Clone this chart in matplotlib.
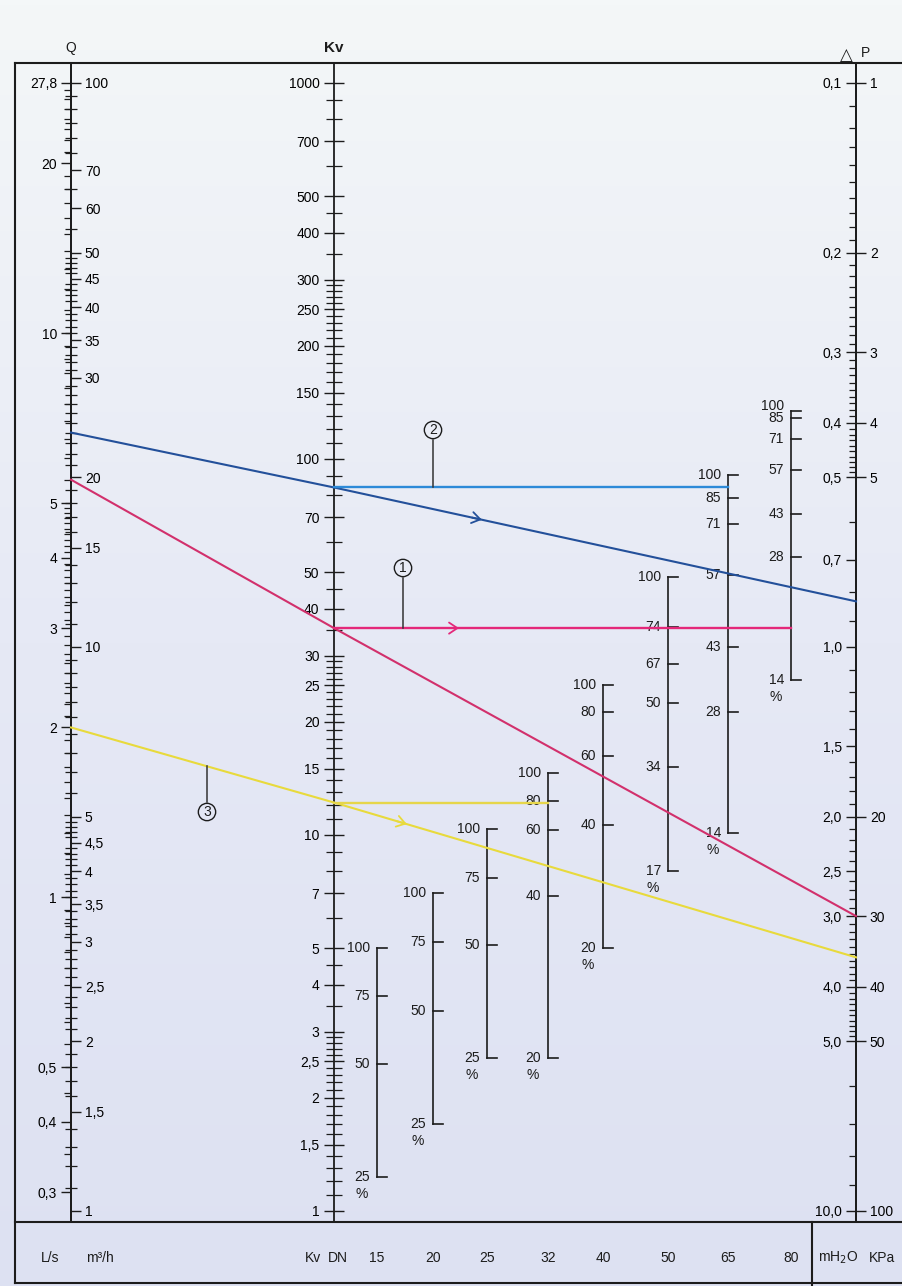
import numpy as np
import matplotlib.pyplot as plt
from matplotlib.colors import LinearSegmentedColormap
from matplotlib.ticker import NullFormatter

plt.rcParams['font.family'] = ['Liberation Sans', 'DejaVu Sans']
plt.rcParams['font.size'] = 10

##### scale values printed on the nomogram
q_m3h_major = [1, 1.5, 2, 2.5, 3, 3.5, 4, 4.5, 5, 10, 15, 20, 30, 35, 40, 45, 50, 60, 70, 100]
q_ls_major = [0.3, 0.4, 0.5, 1, 2, 3, 4, 5, 10, 20, 27.8]
kv_major = [1, 1.5, 2, 2.5, 3, 4, 5, 7, 10, 15, 20, 25, 30, 40, 50, 70,
            100, 150, 200, 250, 300, 400, 500, 700, 1000]
dp_mh2o_major = [0.1, 0.2, 0.3, 0.4, 0.5, 0.7, 1.0, 1.5, 2.0, 2.5, 3.0, 4.0, 5.0, 10.0]
dp_kpa_major = [1, 2, 3, 4, 5, 20, 30, 40, 50, 100]

##### valve scales: % opening and the Kv it sits at
dn_names = ['15', '20', '25', '32', '40', '50', '65', '80']
dn15_pct = [100, 75, 50, 25]
dn15_kv = [5.0, 3.73, 2.46, 1.23]
dn20_pct = [100, 75, 50, 25]
dn20_kv = [7.0, 5.2, 3.4, 1.7]
dn25_pct = [100, 75, 50, 25]
dn25_kv = [10.4, 7.7, 5.1, 2.55]
dn32_pct = [100, 80, 60, 40, 20]
dn32_kv = [14.6, 12.3, 10.3, 6.9, 2.55]
dn40_pct = [100, 80, 60, 40, 20]
dn40_kv = [25.1, 21.2, 16.2, 10.6, 5.0]
dn50_pct = [100, 74, 67, 50, 34, 17]
dn50_kv = [48.5, 35.7, 28.5, 22.4, 15.2, 8.0]
dn65_pct = [100, 85, 71, 57, 43, 28, 14]
dn65_kv = [90.6, 78.7, 67.1, 49.1, 31.6, 21.2, 10.1]
dn80_pct = [100, 85, 71, 57, 43, 28, 14]
dn80_kv = [134, 128.6, 113, 93.5, 71.4, 54.8, 25.8]

##### the three worked examples (Q m3/h, Kv, dP mH2O, valve read on)
ex_names = ['1', '2', '3']
ex_q = [19.8, 24.0, 7.2]
ex_kv = [35.5, 84.0, 12.2]
ex_dp = [3.0, 0.83, 3.55]
ex_dn = ['80', '65', '32']

##### layout (pixels)
W, H = 902, 1286
FL, FT, FB, BB = 15, 63, 1222, 1283
END_T, END_B = 83, 1211
X_Q, X_KV, X_DP = 71, 334, 856
dn_x = [377, 433, 487, 548, 603, 668, 728, 791]
ink = '#1c1c1c'
slant_col = ['#d2306c', '#23509a', '#e8da3c']
horiz_col = ['#e4287a', '#2d8ad8', '#e6d64a']
arrow_on = ['h', 's', 's']
arrow_x = [455, 478, 403]
callout_xy = [(403, 568), (433, 430), (207, 812)]


def comma(v, fmt='{:g}'):
    return fmt.format(v).replace('.', ',')


fig = plt.figure(figsize=(W / 100, H / 100), dpi=100)

bg = fig.add_axes([0, 0, 1, 1], zorder=0)
bg.set_xlim(0, W)
bg.set_ylim(H, 0)
bg.axis('off')
paper = LinearSegmentedColormap.from_list('paper', ['#f4f7f8', '#e6e9f5', '#dde1f2'])
bg.imshow(np.linspace(0, 1, 256).reshape(-1, 1), extent=(0, W, H, 0), cmap=paper, aspect='auto')

# frame
for xs, ys in [([FL, W], [FT, FT]), ([FL, FL], [FT, BB]), ([FL, W], [FB, FB]),
               ([FL, W], [BB, BB]), ([812, 812], [FB, H])]:
    bg.plot(xs, ys, color=ink, lw=1.5)


def log_limits(v_top, v_bot):
    lt, lb = np.log10(v_top), np.log10(v_bot)
    step = (lt - lb) / (END_B - END_T)
    return 10 ** (lb - step * (FB - END_B)), 10 ** (lt + step * (END_T - FT))


def scale_axes(v_top, v_bot):
    ax = fig.add_axes([0, (H - FB) / H, 1, (FB - FT) / H], zorder=2)
    ax.patch.set_visible(False)
    ax.set_xlim(0, W)
    ax.set_yscale('log')
    ax.set_ylim(*log_limits(v_top, v_bot))
    ax.set_xticks([])
    for s in ax.spines.values():
        s.set_visible(False)
    return ax


def setup(ax, side, x, major, labels, minor, maj_dir, maj_len, min_dir, min_len):
    sp = ax.spines[side]
    sp.set_visible(True)
    sp.set_position(('data', x))
    sp.set_linewidth(1.3)
    sp.set_color(ink)
    ax.yaxis.set_ticks_position(side)
    ax.set_yticks(major, labels)
    ax.set_yticks(minor, minor=True)
    ax.yaxis.set_minor_formatter(NullFormatter())
    ax.tick_params(axis='y', which='major', direction=maj_dir, length=maj_len,
                   width=1.0, pad=3, labelsize=10, color=ink)
    ax.tick_params(axis='y', which='minor', direction=min_dir, length=min_len,
                   width=0.9, color=ink)


def minors(ranges, major):
    out = []
    for a, b, s in ranges:
        out += list(np.round(np.arange(a, b + s / 2, s), 3))
    return [v for v in out if v not in major]


# Q scale: m3/h on the right, L/s on the left
axQ = scale_axes(100, 1)
setup(axQ, 'right', X_Q, q_m3h_major, [comma(v) for v in q_m3h_major],
      minors([(1.1, 4.9, 0.1), (5.5, 9.5, 0.5), (11, 49, 1), (55, 95, 5)], q_m3h_major),
      'out', 7, 'inout', 8)
axL = scale_axes(100 / 3.6, 1 / 3.6)
setup(axL, 'left', X_Q, q_ls_major, [comma(v) for v in q_ls_major],
      minors([(0.3, 1.0, 0.05), (1.1, 4.9, 0.1), (5.5, 9.5, 0.5), (11, 27, 1)], q_ls_major),
      'out', 7, 'out', 5)

# Kv scale
axKv = scale_axes(1000, 1)
kv_minor = []
for d in [1, 10, 100]:
    kv_minor += [round(v * d, 3) for v in list(np.arange(1.1, 2.95, 0.1)) + [3.5, 4.5, 6, 8, 9]]
kv_minor = [v for v in kv_minor if v not in kv_major]
setup(axKv, 'left', X_KV, kv_major, [comma(v) for v in kv_major], kv_minor,
      'inout', 15, 'inout', 11)

# dP scale: mH2O on the left, KPa on the right
axP = scale_axes(0.1, 10)
setup(axP, 'left', X_DP, dp_mh2o_major, [comma(v, '{:.1f}') for v in dp_mh2o_major],
      minors([(0.11, 0.49, 0.01), (0.6, 0.9, 0.1), (1.1, 4.9, 0.1), (6, 9, 1)], dp_mh2o_major),
      'out', 7, 'out', 5)
axK = scale_axes(1, 100)
setup(axK, 'right', X_DP, dp_kpa_major, [str(v) for v in dp_kpa_major], [],
      'out', 7, 'out', 4)

# valve opening scales, placed on the Kv scale
dn_pcts = [dn15_pct, dn20_pct, dn25_pct, dn32_pct, dn40_pct, dn50_pct, dn65_pct, dn80_pct]
dn_kvs = [dn15_kv, dn20_kv, dn25_kv, dn32_kv, dn40_kv, dn50_kv, dn65_kv, dn80_kv]
for x, pct, kv in zip(dn_x, dn_pcts, dn_kvs):
    axKv.plot([x, x], [min(kv), max(kv)], color=ink, lw=1.2)
    ypx = axKv.transData.transform(np.column_stack([np.full(len(kv), x), kv]))[:, 1]
    for i, (p, k) in enumerate(zip(pct, kv)):
        axKv.plot([x, x + 10], [k, k], color=ink, lw=1.2)
        dy = 4 if i == 0 and ypx[0] - ypx[1] < 10 else 0
        axKv.annotate(str(p), xy=(x, k), xytext=(-5, dy), textcoords='offset points',
                      ha='right', va='center', fontsize=10, color=ink)
    axKv.annotate('%', xy=(x, min(kv)), xytext=(-11, -12), textcoords='offset points',
                  ha='center', va='center', fontsize=10, color=ink)

# overlay for the worked examples
ov = fig.add_axes([0, 0, 1, 1], zorder=3)
ov.set_xlim(0, W)
ov.set_ylim(H, 0)
ov.axis('off')


def to_px(ax, x, v):
    return ov.transData.inverted().transform(ax.transData.transform((x, v)))


def chevron(p0, p1, x, color):
    d = np.asarray(p1, float) - np.asarray(p0, float)
    d /= np.hypot(*d)
    y = np.interp(x, [p0[0], p1[0]], [p0[1], p1[1]])
    tip = np.array([x, y]) + 4 * d
    ov.annotate('', xy=tip, xytext=tip - 10 * d,
                arrowprops=dict(arrowstyle='->,head_length=0.6,head_width=0.4',
                                color=color, lw=1.3, shrinkA=0, shrinkB=0))


for i, name in enumerate(ex_names):
    pq = to_px(axQ, X_Q, ex_q[i])
    pk = to_px(axKv, X_KV, ex_kv[i])
    pp = to_px(axP, X_DP, ex_dp[i])
    pe = to_px(axKv, dn_x[dn_names.index(ex_dn[i])], ex_kv[i])
    ov.plot([pq[0], pk[0], pp[0]], [pq[1], pk[1], pp[1]], color=slant_col[i], lw=1.5)
    ov.plot([pk[0], pe[0]], [pk[1], pe[1]], color=horiz_col[i], lw=1.7)
    if arrow_on[i] == 'h':
        chevron(pk, pe, arrow_x[i], horiz_col[i])
    else:
        chevron(pk, pp, arrow_x[i], slant_col[i])
    cx, cy = callout_xy[i]
    if cx < X_KV:
        ty = np.interp(cx, [pq[0], pk[0]], [pq[1], pk[1]])
    else:
        ty = pk[1]
    ov.plot([cx, cx], [cy + (10 if ty > cy else -10), ty], color='#333333', lw=1.1)
    ov.text(cx, cy, name, ha='center', va='center', fontsize=10, color=ink,
            bbox=dict(boxstyle='circle,pad=0.12', fc='none', ec=ink, lw=1.0))

# headings
ov.text(X_Q, 48, 'Q', ha='center', va='center', fontsize=10, color=ink)
ov.text(X_KV, 48, 'Kv', ha='center', va='center', fontsize=11, fontweight='bold', color=ink)
ov.text(846, 55, '△', ha='center', va='center', fontsize=12, color=ink,
        family=['DejaVu Sans'])
ov.text(865, 53, 'P', ha='center', va='center', fontsize=10, color=ink)

# bottom row
yb = 1258
ov.text(50, yb, 'L/s', ha='center', va='center', fontsize=10, color=ink)
ov.text(100, yb, 'm³/h', ha='center', va='center', fontsize=10, color=ink)
ov.text(313, yb, 'Kv', ha='center', va='center', fontsize=10, color=ink)
ov.text(338, yb, 'DN', ha='center', va='center', fontsize=10, color=ink)
for x, name in zip(dn_x, dn_names):
    ov.text(x, yb, name, ha='center', va='center', fontsize=10, color=ink)
ov.text(838, yb, r'mH$_2$O', ha='center', va='center', fontsize=10, color=ink)
ov.text(882, yb, 'KPa', ha='center', va='center', fontsize=10, color=ink)

fig.savefig('out.png', dpi=100)
